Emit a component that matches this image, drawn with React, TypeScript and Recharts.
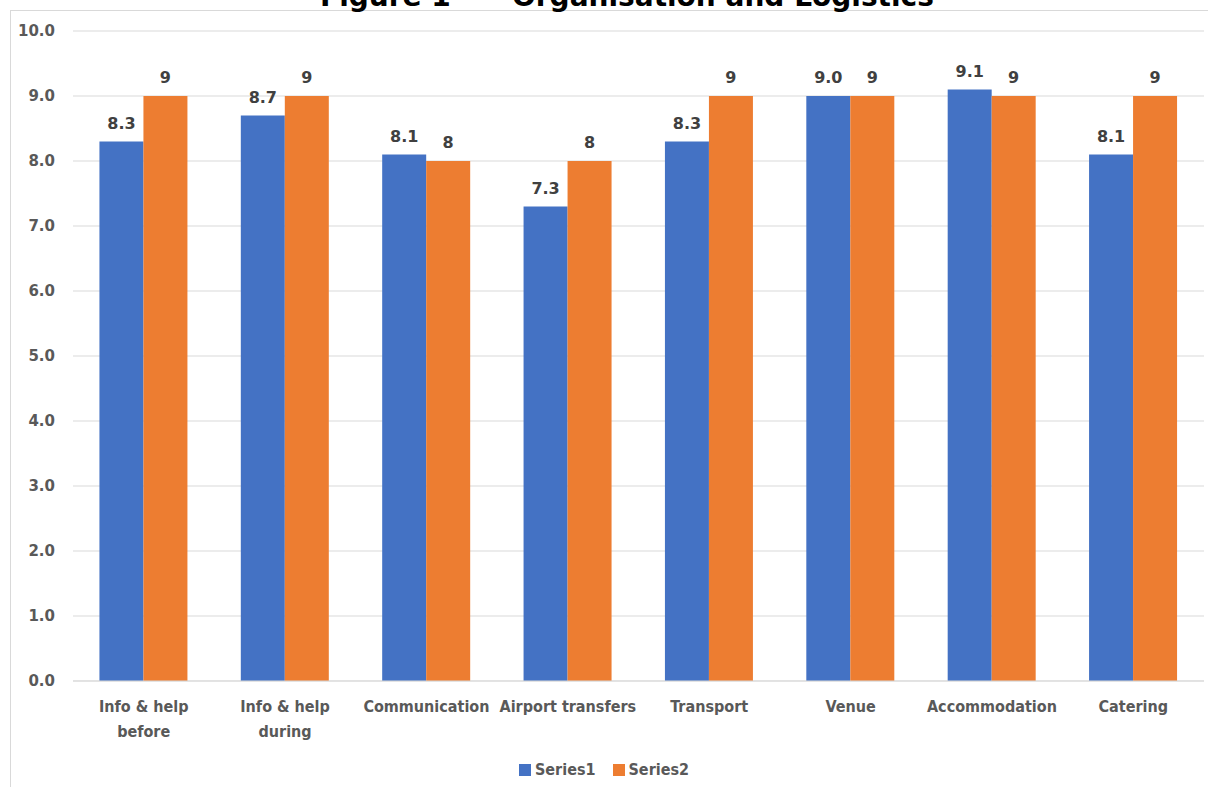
import React from 'react';
import { BarChart, Bar, XAxis, YAxis, CartesianGrid, LabelList } from 'recharts';

const categories = [
  'Info & help\nbefore',
  'Info & help\nduring',
  'Communication',
  'Airport transfers',
  'Transport',
  'Venue',
  'Accommodation',
  'Catering',
];
const series1 = [8.3, 8.7, 8.1, 7.3, 8.3, 9.0, 9.1, 8.1];
const series2 = [9, 9, 8, 8, 9, 9, 9, 9];
const yTicks = [0, 1, 2, 3, 4, 5, 6, 7, 8, 9, 10];
const seriesNames = ['Series1', 'Series2'];

const BLUE = '#4472C4';
const ORANGE = '#ED7D31';
const COND = '"DejaVu Sans Condensed", "DejaVu Sans", sans-serif';
const SANS = '"DejaVu Sans", sans-serif';

const data = categories.map((c, i) => ({ name: c, s1: series1[i], s2: series2[i] }));

const CatTick = (props: any) => {
  const { x, y, payload } = props;
  const lines = String(payload.value).split('\n');
  return (
    <text x={x} y={y + 23} textAnchor="middle" fill="#595959" fontFamily={COND} fontWeight="bold" fontSize={16}>
      {lines.map((l, i) => (
        <tspan key={i} x={x} dy={i === 0 ? 0 : 25}>{l}</tspan>
      ))}
    </text>
  );
};

export default function App() {
  return (
    <div style={{ position: 'absolute', left: 0, top: 0, width: 1208, height: 787, background: '#fff', overflow: 'hidden' }}>
      <div style={{ position: 'absolute', left: 10, top: 10, width: 1300, height: 900, borderTop: '1px solid #d9d9d9', borderLeft: '1px solid #d9d9d9' }} />
      <div style={{ position: 'absolute', left: 0, top: -20, width: 1208, height: 34, fontFamily: SANS, fontWeight: 'bold', fontSize: 28, color: '#000', whiteSpace: 'pre' }}>
        <span style={{ position: 'absolute', left: 320 }}>Figure 1</span>
        <span style={{ position: 'absolute', left: 512 }}>Organisation and Logistics</span>
      </div>
      <BarChart
        width={1208}
        height={787}
        data={data}
        margin={{ top: 31, right: 4, left: 13, bottom: 46 }}
        barCategoryGap="18.7%"
        barGap={0}
      >
        <CartesianGrid vertical={false} stroke="#d9d9d9" />
        <XAxis
          dataKey="name"
          height={60}
          tick={<CatTick />}
          tickLine={false}
          axisLine={{ stroke: '#d9d9d9' }}
          interval={0}
        />
        <YAxis
          width={60}
          domain={[0, 10]}
          ticks={yTicks}
          tickFormatter={(v: number) => v.toFixed(1)}
          axisLine={false}
          tickLine={false}
          tickSize={0}
          tickMargin={18}
          tick={{ fill: '#595959', fontFamily: SANS, fontWeight: 'bold', fontSize: 15 }}
        />
        <Bar dataKey="s1" name={seriesNames[0]} fill={BLUE} isAnimationActive={false}>
          <LabelList
            dataKey="s1"
            position="top"
            offset={13}
            formatter={(v: any) => Number(v).toFixed(1)}
            style={{ fill: '#404040', fontFamily: SANS, fontWeight: 'bold', fontSize: 16 }}
          />
        </Bar>
        <Bar dataKey="s2" name={seriesNames[1]} fill={ORANGE} isAnimationActive={false}>
          <LabelList
            dataKey="s2"
            position="top"
            offset={13}
            style={{ fill: '#404040', fontFamily: SANS, fontWeight: 'bold', fontSize: 16 }}
          />
        </Bar>
      </BarChart>
      <div style={{ position: 'absolute', left: 0, top: 760, width: 1208, display: 'flex', justifyContent: 'center', fontFamily: COND, fontWeight: 'bold', fontSize: 16, color: '#595959' }}>
        {seriesNames.map((n, i) => (
          <span key={n} style={{ display: 'flex', alignItems: 'center', marginLeft: i === 0 ? 0 : 17 }}>
            <span style={{ display: 'inline-block', width: 12, height: 12, background: i === 0 ? BLUE : ORANGE, marginRight: 4 }} />
            {n}
          </span>
        ))}
      </div>
    </div>
  );
}
